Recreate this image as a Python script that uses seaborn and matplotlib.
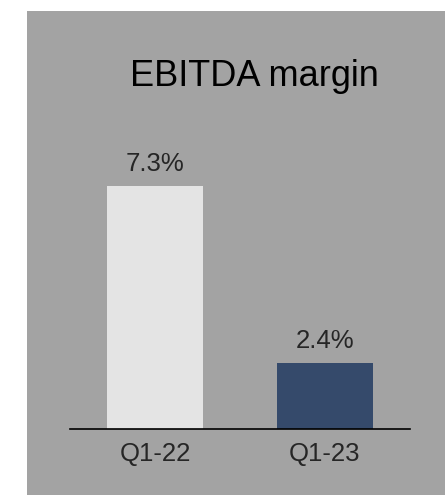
import matplotlib
matplotlib.use("Agg")
import matplotlib.pyplot as plt
from matplotlib.patches import Rectangle
import seaborn as sns
import pandas as pd

# Quarterly EBITDA margin (%)
periods = ["Q1-22", "Q1-23"]
margins = [7.3, 2.4]
labels = ["7.3%", "2.4%"]
bar_colors = ["#e4e4e4", "#354a6b"]

df = pd.DataFrame({"period": periods, "margin": margins})

sns.set_theme(style="white")
plt.rcParams["font.family"] = ["Liberation Sans", "DejaVu Sans"]

fig = plt.figure(figsize=(4.45, 4.95), dpi=100)
fig.patch.set_facecolor("white")

# grey card behind the chart
fig.patches.append(Rectangle((27 / 445, 0), 1 - 27 / 445, (495 - 11) / 495,
                             transform=fig.transFigure, facecolor="#a3a3a3",
                             edgecolor="none", zorder=-5))

ax = fig.add_axes([70 / 445, 66 / 495, 340 / 445, (429 - 100) / 495])
ax.set_facecolor("none")
ax.set_zorder(2)

sns.barplot(data=df, x="period", y="margin", hue="period", palette=bar_colors,
            width=0.56, legend=False, ax=ax, saturation=1,
            edgecolor="none", linewidth=0)

ax.set_xlim(-0.5, 1.5)
ax.set_ylim(0.573, 9.68)

for i, (v, lab) in enumerate(zip(margins, labels)):
    ax.annotate(lab, (i, v), xytext=(0, 7.5), textcoords="offset points",
                ha="center", va="bottom", fontsize=18.5, color="#262626")

for side in ["top", "right", "left"]:
    ax.spines[side].set_visible(False)
ax.spines["bottom"].set_color("black")
ax.spines["bottom"].set_linewidth(1.2)

ax.set_yticks([])
ax.set_xlabel("")
ax.set_ylabel("")
ax.tick_params(axis="x", length=0, pad=9, labelsize=18.5, labelcolor="#262626")

fig.text(254 / 445, 1 - 76 / 495, "EBITDA margin", ha="center", va="center",
         fontsize=26, color="black", zorder=3)

fig.savefig("out.png", dpi=100)
